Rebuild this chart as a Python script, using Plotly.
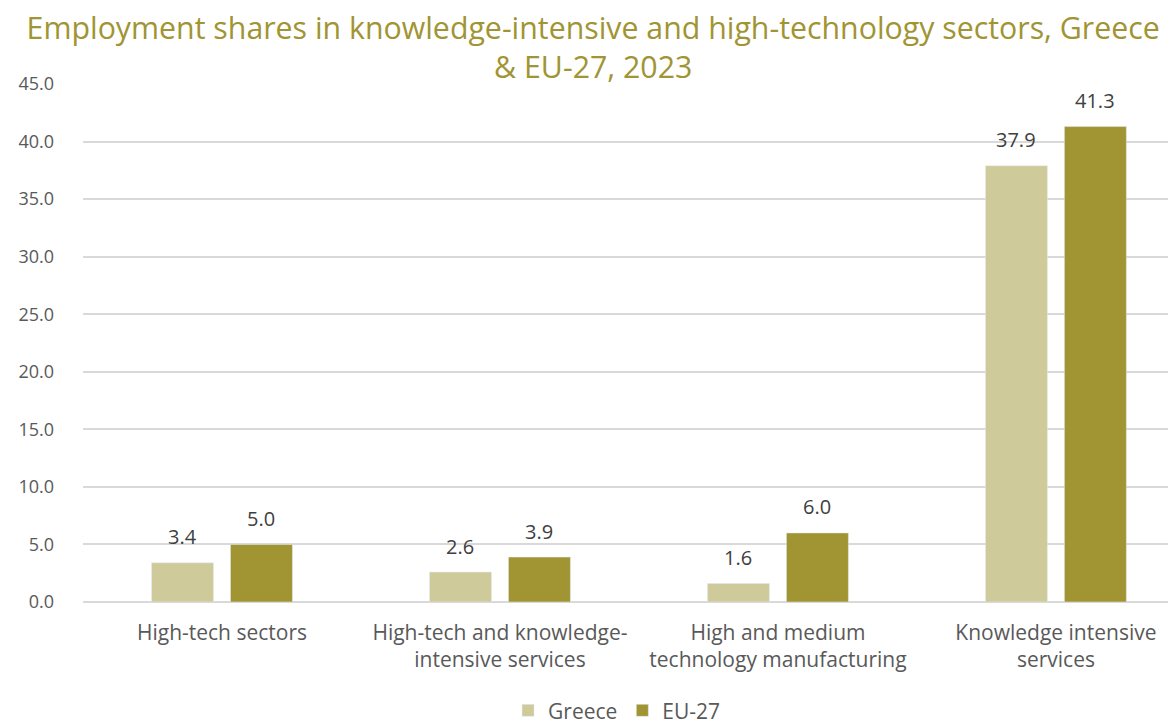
import plotly.graph_objects as go

categories = ["High-tech sectors", "High-tech and knowledge-<br>intensive services",
              "High and medium<br>technology manufacturing", "Knowledge intensive<br>services"]
greece = [3.4, 2.6, 1.6, 37.9]
eu27 = [5.0, 3.9, 6.0, 41.3]
y_ticks = [0, 5, 10, 15, 20, 25, 30, 35, 40, 45]
title_text = "Employment shares in knowledge-intensive and high-technology sectors, Greece<br>& EU-27, 2023"

C_GR = "#CECA9A"
C_EU = "#A09433"
FONT = "Open Sans"

fig = go.Figure()
fig.add_trace(go.Bar(name="Greece", x=categories, y=greece, marker_color=C_GR))
fig.add_trace(go.Bar(name="EU-27", x=categories, y=eu27, marker_color=C_EU))

for vals, xs in ((greece, -39.5), (eu27, 39.5)):
    for c, v in zip(categories, vals):
        fig.add_annotation(x=c, y=v, text=f"{v:.1f}", showarrow=False,
                           xref="x", yref="y", xshift=xs, yshift=26,
                           font=dict(family=FONT, size=20, color="#404040"))

fig.update_layout(
    width=1168, height=720,
    margin=dict(l=75, r=0, t=76, b=126),
    paper_bgcolor="white", plot_bgcolor="white",
    barmode="group", bargap=0.432, bargroupgap=0.215,
    font=dict(family=FONT, size=18, color="#595959"),
    title=dict(text=title_text, x=0.501, xanchor="center",
               yref="container", y=0.957, yanchor="middle",
               font=dict(family=FONT, size=30.3, color="#A09433")),
    legend=dict(orientation="h", x=0.4886, xanchor="center",
                yref="container", y=0.024, yanchor="middle",
                font=dict(family=FONT, size=21, color="#595959"),
                traceorder="normal"),
    showlegend=True,
)
fig.update_xaxes(range=[-0.5, 3.432], showgrid=False, showline=False, ticks="",
                 ticklabelstandoff=16,
                 tickfont=dict(family=FONT, size=21, color="#595959"))
fig.update_yaxes(range=[0, 45], tickvals=y_ticks, ticktext=[f"{t:.1f}" for t in y_ticks],
                 showgrid=True, gridcolor="#D9D9D9", gridwidth=1.5,
                 zeroline=True, zerolinecolor="#D9D9D9", zerolinewidth=1.5,
                 showline=False, ticks="", ticklabelstandoff=28,
                 tickfont=dict(family=FONT, size=18, color="#595959"))

fig.write_html("out.html")
